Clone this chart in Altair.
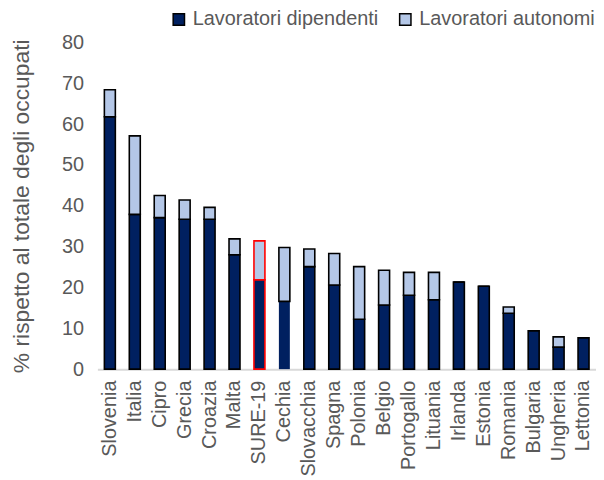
import altair as alt
import pandas as pd

paesi = ["Slovenia", "Italia", "Cipro", "Grecia", "Croazia", "Malta", "SURE-19",
         "Cechia", "Slovacchia", "Spagna", "Polonia", "Belgio", "Portogallo",
         "Lituania", "Irlanda", "Estonia", "Romania", "Bulgaria", "Ungheria", "Lettonia"]
dipendenti = [61.8, 37.9, 37.1, 36.7, 36.7, 28.0, 21.9, 16.6, 25.1, 20.6,
              12.2, 15.7, 18.1, 17.0, 21.3, 20.3, 13.7, 9.4, 5.4, 7.7]
autonomi = [6.6, 19.2, 5.4, 4.7, 2.9, 3.9, 9.5, 13.2, 4.3, 7.7,
            12.9, 8.5, 5.6, 6.7, 0.0, 0.0, 1.5, 0.0, 2.5, 0.0]
serie = ["Lavoratori dipendenti", "Lavoratori autonomi"]
colori = ["#002060", "#B4C7E7"]

rows = []
for p, d, a in zip(paesi, dipendenti, autonomi):
    rows.append({"paese": p, "serie": serie[0], "valore": d, "ord": 0})
    rows.append({"paese": p, "serie": serie[1], "valore": a, "ord": 1})
df = pd.DataFrame(rows)

grey = "#595959"

chart = alt.Chart(df).mark_bar(strokeWidth=1.6).encode(
    x=alt.X("paese:N", sort=paesi, title=None,
            scale=alt.Scale(paddingInner=0.56, paddingOuter=0.28),
            axis=alt.Axis(labelAngle=-90, labelAlign="right", labelBaseline="middle",
                          labelFontSize=20, labelColor=grey, labelPadding=11,
                          ticks=False, domainColor="#D9D9D9", domainWidth=2,
                          labelFont="Liberation Sans", labelLimit=200)),
    y=alt.Y("valore:Q", stack="zero", title="% rispetto al totale degli occupati",
            scale=alt.Scale(domain=[0, 80]),
            axis=alt.Axis(values=list(range(0, 90, 10)), grid=False, domain=False,
                          ticks=False, labelFontSize=20, labelColor=grey,
                          labelPadding=14, titleFontSize=23, titleColor=grey,
                          titleFontWeight="normal", titlePadding=28,
                          labelFont="Liberation Sans", titleFont="Liberation Sans")),
    fill=alt.Fill("serie:N", scale=alt.Scale(domain=serie, range=colori),
                  legend=alt.Legend(title=None, orient="none", legendX=72, legendY=-33,
                                    direction="horizontal", columns=2,
                                    symbolType="square", symbolSize=130,
                                    symbolStrokeColor="black", symbolStrokeWidth=1.5,
                                    labelFontSize=20, labelColor=grey, labelLimit=400,
                                    labelFont="Liberation Sans", columnPadding=17,
                                    labelOffset=4)),
    order=alt.Order("ord:Q"),
    stroke=alt.condition(alt.datum.paese == "SURE-19", alt.value("#FF0000"), alt.value("black")),
    strokeOpacity=alt.condition(
        (alt.datum.paese == "Cechia") & (alt.datum.serie == "Lavoratori dipendenti"),
        alt.value(0), alt.value(1)),
).properties(
    width=502, height=329,
    autosize=alt.AutoSizeParams(type="none"),
    padding={"left": 90, "top": 33, "right": 0, "bottom": 110},
).configure_view(stroke=None)

chart.save("out.html", embed_options={"renderer": "svg", "actions": False})
